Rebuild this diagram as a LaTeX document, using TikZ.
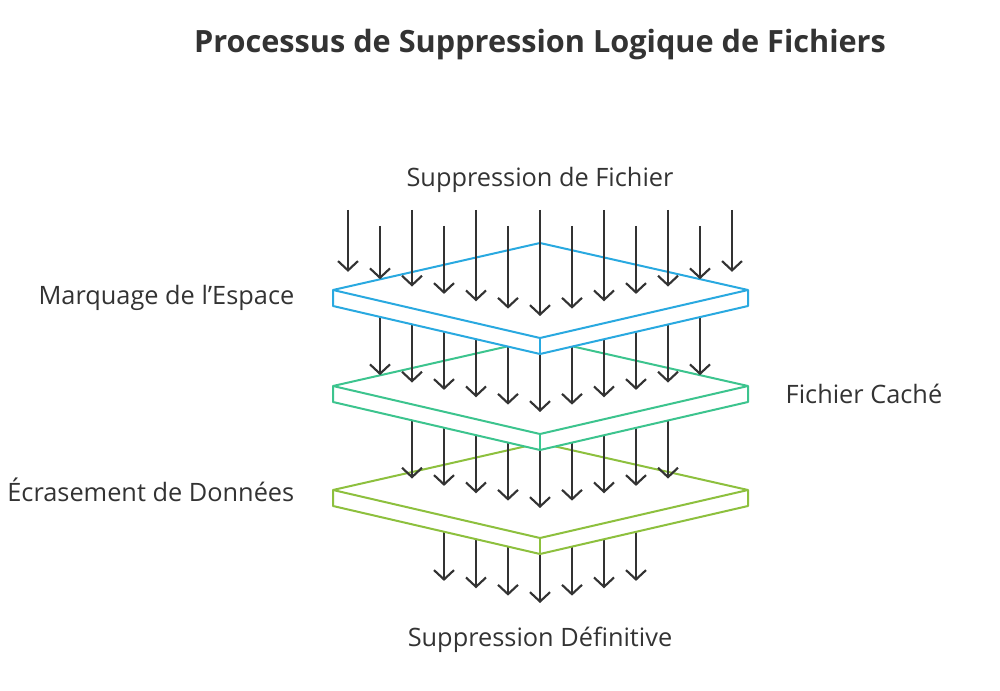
\documentclass[tikz,border=0pt]{standalone}
\usepackage{fontspec}
\setmainfont{Open Sans}
\usetikzlibrary{arrows.meta}
\definecolor{ink}{HTML}{333333}
\definecolor{layerA}{HTML}{29A9E0}
\definecolor{layerB}{HTML}{3CC48E}
\definecolor{layerC}{HTML}{8DC03E}
\tikzset{
  flow/.style={draw=ink,line width=1.6pt,-{Straight Barb[length=7pt,width=15pt,line width=1.6pt]}},
  plate/.style={line width=1.5pt,fill=white,line join=round},
  lbl/.style={text=ink,font=\fontsize{19pt}{22pt}\selectfont}
}
% one slab: #1 colour, #2 y of its left corner
\newcommand{\slab}[2]{%
  \filldraw[plate,draw=#1] (333,#2) -- (540,#2-47) -- (748,#2) -- (748,#2+16)
     -- (540,#2+64) -- (333,#2+16) -- cycle;
  \draw[plate,fill=none,draw=#1] (333,#2) -- (540,#2+48) -- (748,#2);
  \draw[plate,fill=none,draw=#1] (540,#2+48) -- (540,#2+64);
}
\begin{document}
\begin{tikzpicture}[x=0.75pt,y=-0.75pt]
\useasboundingbox (0,0) rectangle (1000,691);

\node[text=ink,font=\fontsize{23pt}{27pt}\selectfont\bfseries] (title) at (540,45) {Processus de Suppression Logique de Fichiers};

% bottom flow, then each slab above it
\foreach \x in {444,476,...,636}
  {\pgfmathsetmacro{\e}{603-0.23*abs(\x-540)}
   \draw[flow] (\x,500) -- (\x,\e);}
\slab{layerC}{490}
\foreach \x in {412,444,...,668}
  {\pgfmathsetmacro{\e}{508-0.23*abs(\x-540)}
   \draw[flow] (\x,400) -- (\x,\e);}
\slab{layerB}{386}
\foreach \x in {380,412,...,700}
  {\pgfmathsetmacro{\e}{412-0.23*abs(\x-540)}
   \draw[flow] (\x,300) -- (\x,\e);}
\slab{layerA}{290}
\foreach \x [count=\i] in {348,380,...,732}
  {\pgfmathsetmacro{\s}{isodd(\i) ? 210 : 226}
   \pgfmathsetmacro{\e}{316-0.23*abs(\x-540)}
   \draw[flow] (\x,\s) -- (\x,\e);}

\node[lbl] (top) at (540,180) {Suppression de Fichier};
\node[lbl,anchor=east] (mark) at (299,298) {Marquage de l\symbol{39}Espace};
\node[lbl,anchor=west] (hide) at (781,394) {Fichier Caché};
\node[lbl,anchor=east] (wipe) at (299,490) {Écrasement de Données};
\node[lbl] (final) at (540,640) {Suppression Définitive};
\end{tikzpicture}
\end{document}
